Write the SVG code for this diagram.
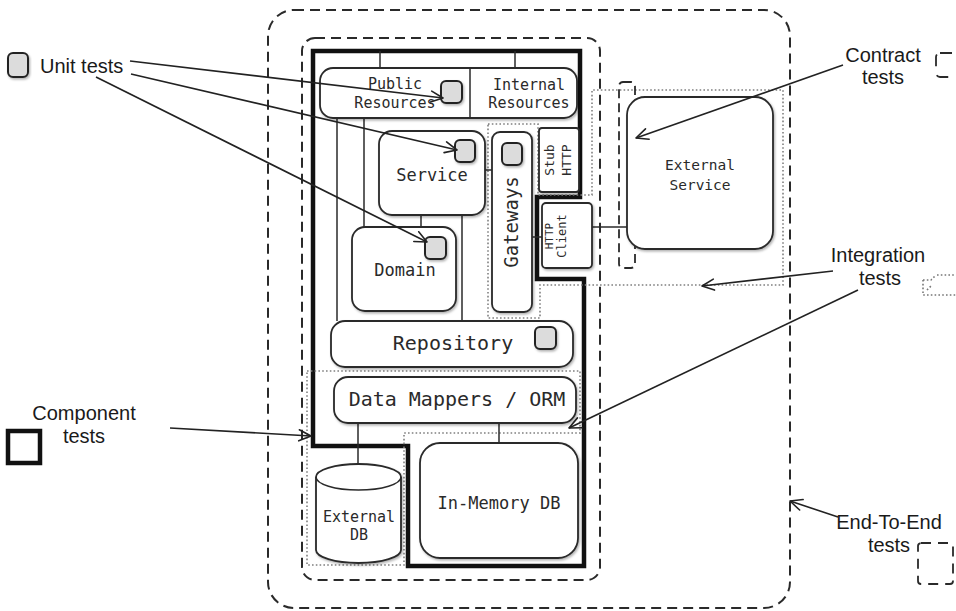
<svg xmlns="http://www.w3.org/2000/svg" width="956" height="611" viewBox="0 0 956 611">
  <defs>
    <filter id="shadow" x="-10%" y="-10%" width="130%" height="130%">
      <feDropShadow dx="1.2" dy="1.6" stdDeviation="1.2" flood-color="#000" flood-opacity="0.3"/>
    </filter>
    <marker id="arrow" markerUnits="userSpaceOnUse" markerWidth="16" markerHeight="16" viewBox="0 0 16 16" refX="14" refY="8" orient="auto">
      <path d="M2,2.5 L14,8 L2,13.5" fill="none" stroke="#222" stroke-width="1.6" stroke-linecap="round" stroke-linejoin="round"/>
    </marker>
    <style>
      .box { fill: #fff; stroke: #2a2a2a; stroke-width: 1.8; filter: url(#shadow); }
      .probe { fill: #dcdcdc; stroke: #222; stroke-width: 2; filter: url(#shadow); }
      .wire { fill: none; stroke: #2a2a2a; stroke-width: 1.5; }
      .dash { fill: none; stroke: #2a2a2a; stroke-width: 2; stroke-dasharray: 10 6; }
      .dots { fill: none; stroke: #808080; stroke-width: 1.6; stroke-dasharray: 1.6 2.2; }
      .thick { fill: none; stroke: #111; stroke-width: 4.5; stroke-linejoin: miter; }
      .arrow { fill: none; stroke: #222; stroke-width: 1.6; marker-end: url(#arrow); }
      .mono { font-family: "DejaVu Sans Mono", "Liberation Mono", monospace; fill: #2a2a2a; text-anchor: middle; }
      .sans { font-family: "Liberation Sans", Arial, sans-serif; font-size: 20px; fill: #1a1a1a; text-anchor: middle; }
    </style>
  </defs>

  <rect width="956" height="611" fill="#fff"/>

  <!-- test boundaries -->
  <g id="end-to-end-boundary">
    <rect class="dash" x="268" y="10" width="522" height="598" rx="26"/>
  </g>
  <g id="service-boundary">
    <rect class="dash" x="302" y="38" width="298" height="542" rx="13"/>
  </g>
  <g id="component-boundary">
    <polygon class="thick" points="313,51 580,51 580,197 537,197 537,279 584,279 584,566 408,566 408,446 313,446"/>
  </g>
  <g id="integration-boundaries">
    <polygon class="dots" points="488,124 538,124 538,195 592,195 592,90 783,90 783,285 540,285 540,318 488,318"/>
    <polygon class="dots" points="307,371 580,371 580,433 404,433 404,565 307,565"/>
  </g>
  <g id="contract-boundary">
    <rect class="dash" x="619" y="82" width="16" height="186" rx="4" style="stroke-width:1.8;stroke-dasharray:9 5"/>
  </g>

  <!-- connectors between components -->
  <g id="connectors">
    <line class="wire" x1="380" y1="51" x2="380" y2="68"/>
    <line class="wire" x1="515" y1="51" x2="515" y2="68"/>
    <line class="wire" x1="337" y1="118" x2="337" y2="321"/>
    <line class="wire" x1="364" y1="118" x2="364" y2="227"/>
    <line class="wire" x1="421" y1="215" x2="421" y2="227"/>
    <line class="wire" x1="462" y1="215" x2="462" y2="321"/>
    <line class="wire" x1="485" y1="170" x2="492" y2="170"/>
    <line class="wire" x1="532" y1="237" x2="542" y2="237"/>
    <line class="wire" x1="592" y1="227" x2="627" y2="227"/>
    <line class="wire" x1="358" y1="423" x2="358" y2="465"/>
    <line class="wire" x1="499" y1="423" x2="499" y2="443"/>
  </g>

  <!-- components -->
  <g id="resources">
    <rect class="box" x="320" y="68" width="257" height="50" rx="13"/>
    <line class="wire" x1="470" y1="68" x2="470" y2="118"/>
    <text class="mono" x="395" y="89" font-size="15">Public</text>
    <text class="mono" x="395" y="108" font-size="15">Resources</text>
    <text class="mono" x="529" y="90" font-size="15">Internal</text>
    <text class="mono" x="529" y="108" font-size="15">Resources</text>
    <rect class="probe" x="441" y="81" width="21" height="22" rx="5"/>
  </g>

  <g id="service">
    <rect class="box" x="379" y="131" width="106" height="84" rx="13"/>
    <text class="mono" x="432" y="181" font-size="17">Service</text>
    <rect class="probe" x="455" y="140" width="20" height="22" rx="5"/>
  </g>

  <g id="domain">
    <rect class="box" x="352" y="227" width="104" height="84" rx="13"/>
    <text class="mono" x="405" y="276" font-size="17">Domain</text>
    <rect class="probe" x="425" y="237" width="21" height="22" rx="5"/>
  </g>

  <g id="gateways">
    <rect class="box" x="492" y="132" width="40" height="180" rx="8"/>
    <text class="mono" font-size="19" transform="translate(511,222) rotate(-90)" dominant-baseline="central">Gateways</text>
    <rect class="probe" x="502" y="143" width="20" height="22" rx="5"/>
  </g>

  <g id="stub-http">
    <rect class="box" x="539" y="128" width="40" height="64" rx="3"/>
    <text class="mono" font-size="13" transform="translate(549,160) rotate(-90)" dominant-baseline="central">Stub</text>
    <text class="mono" font-size="13" transform="translate(566,160) rotate(-90)" dominant-baseline="central">HTTP</text>
  </g>

  <g id="http-client">
    <rect class="box" x="542" y="203" width="50" height="65" rx="4"/>
    <text class="mono" font-size="11" transform="translate(549,236) rotate(-90)" dominant-baseline="central">HTTP</text>
    <text class="mono" font-size="12" transform="translate(562,236) rotate(-90)" dominant-baseline="central">Client</text>
  </g>

  <g id="external-service">
    <rect class="box" x="627" y="97" width="146" height="152" rx="18"/>
    <text class="mono" x="700" y="170" font-size="14.5">External</text>
    <text class="mono" x="700" y="190" font-size="14.5">Service</text>
  </g>

  <g id="repository">
    <rect class="box" x="331" y="321" width="242" height="46" rx="14"/>
    <text class="mono" x="453" y="350" font-size="20">Repository</text>
    <rect class="probe" x="535" y="327" width="21" height="22" rx="5"/>
  </g>

  <g id="data-mappers">
    <rect class="box" x="334" y="377" width="242" height="46" rx="14"/>
    <text class="mono" x="457" y="406" font-size="20">Data Mappers / ORM</text>
  </g>

  <g id="external-db">
    <path class="box" d="M316,477 A42.5,13 0 0 1 401,477 L401,550 A42.5,13 0 0 1 316,550 Z"/>
    <path class="wire" d="M316,477 A42.5,13 0 0 0 401,477"/>
    <text class="mono" x="359" y="522" font-size="15">External</text>
    <text class="mono" x="359" y="540" font-size="15">DB</text>
  </g>

  <g id="in-memory-db">
    <rect class="box" x="420" y="443" width="158" height="115" rx="20"/>
    <text class="mono" x="499" y="509" font-size="17">In-Memory DB</text>
  </g>

  <!-- legend -->
  <g id="unit-tests">
    <rect class="probe" x="8" y="53" width="20" height="24" rx="5"/>
    <text class="sans" x="40" y="73" style="text-anchor:start">Unit tests</text>
  </g>

  <g id="component-tests">
    <rect x="8" y="431" width="32" height="32" fill="#fff" stroke="#111" stroke-width="4.5"/>
    <text class="sans" x="84" y="420">Component</text>
    <text class="sans" x="84" y="443">tests</text>
  </g>

  <g id="contract-tests">
    <text class="sans" x="883" y="62">Contract</text>
    <text class="sans" x="883" y="84">tests</text>
    <rect x="936" y="53" width="40" height="24" rx="4" fill="none" stroke="#2a2a2a" stroke-width="1.8" stroke-dasharray="12 9"/>
  </g>

  <g id="integration-tests">
    <text class="sans" x="878" y="262">Integration</text>
    <text class="sans" x="880" y="285">tests</text>
    <path class="dots" d="M937,275 H960 M923,280 H931 L936,275 M923,280 V295 H960 M927,290 L932,285" style="stroke:#777"/>
  </g>

  <g id="end-to-end-tests">
    <text class="sans" x="889" y="529">End-To-End</text>
    <text class="sans" x="889" y="552">tests</text>
    <rect x="918" y="543" width="35" height="41" rx="3" fill="none" stroke="#2a2a2a" stroke-width="1.8" stroke-dasharray="10 7"/>
  </g>

  <!-- pointers from legend labels -->
  <g id="pointers">
    <line class="arrow" x1="130" y1="61" x2="443" y2="98"/>
    <line class="arrow" x1="131" y1="74" x2="457" y2="150"/>
    <line class="arrow" x1="96" y1="77" x2="427" y2="242"/>
    <line class="arrow" x1="843" y1="65" x2="636" y2="138"/>
    <line class="arrow" x1="833" y1="271" x2="702" y2="286"/>
    <line class="arrow" x1="858" y1="290" x2="569" y2="428"/>
    <line class="arrow" x1="170" y1="428" x2="311" y2="436"/>
    <line class="arrow" x1="838" y1="517" x2="790" y2="501"/>
  </g>
</svg>
